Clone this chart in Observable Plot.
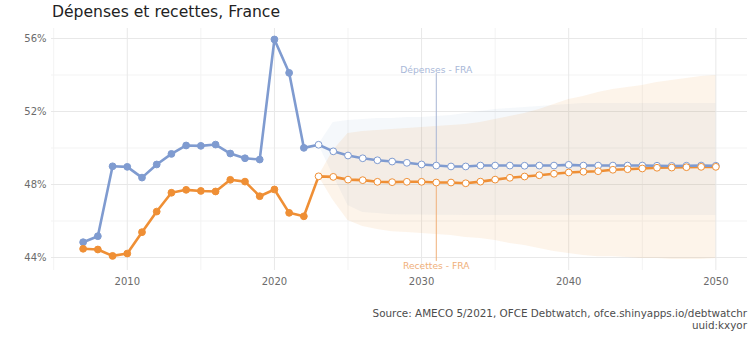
<!DOCTYPE html>
<html>
<head>
<meta charset="utf-8">
<script src="https://cdn.jsdelivr.net/npm/d3@7"></script>
<script src="https://cdn.jsdelivr.net/npm/@observablehq/plot@0.6"></script>
<style>
  html, body { margin: 0; padding: 0; background: #fff; }
  #wrap { position: relative; width: 754px; height: 337px; overflow: hidden; font-family: "DejaVu Sans", sans-serif; }
  #title { position: absolute; left: 52px; top: 3px; font-size: 15.6px; color: #222; white-space: nowrap; }
  #caption { position: absolute; right: 7px; top: 307px; font-size: 10.4px; line-height: 12px; color: #4d4d4d; text-align: right; white-space: nowrap; }
  #chart { position: absolute; left: 0; top: 0; }
</style>
</head>
<body>
<div id="wrap">
  <div id="chart"></div>
  <div id="title">Dépenses et recettes, France</div>
  <div id="caption">Source: AMECO 5/2021, OFCE Debtwatch, ofce.shinyapps.io/debtwatchr<br>uuid:kxyor</div>
</div>
<script>
// ---- data ----
const years = [2007, 2008, 2009, 2010, 2011, 2012, 2013, 2014, 2015, 2016, 2017, 2018, 2019, 2020, 2021, 2022,
  2023, 2024, 2025, 2026, 2027, 2028, 2029, 2030, 2031, 2032, 2033, 2034, 2035, 2036, 2037, 2038, 2039, 2040,
  2041, 2042, 2043, 2044, 2045, 2046, 2047, 2048, 2049, 2050];
const depenses = [44.84, 45.17, 49.00, 48.97, 48.38, 49.10, 49.68, 50.14, 50.12, 50.19, 49.70, 49.44, 49.37, 55.95, 54.12, 50.01,
  50.18, 49.82, 49.59, 49.44, 49.33, 49.26, 49.19, 49.10, 49.04, 48.99, 48.99, 49.04, 49.04,
  49.04, 49.03, 49.04, 49.04, 49.08, 49.04, 49.04, 49.04, 49.04, 49.04, 49.03, 49.02, 49.03, 49.04, 49.03];
const recettes = [44.48, 44.44, 44.09, 44.22, 45.39, 46.52, 47.55, 47.71, 47.65, 47.62, 48.26, 48.16, 47.36, 47.73, 46.45, 46.26,
  48.45, 48.42, 48.27, 48.24, 48.15, 48.13, 48.15, 48.15, 48.11, 48.11, 48.07, 48.16, 48.27, 48.37,
  48.44, 48.51, 48.59, 48.66, 48.70, 48.73, 48.81, 48.84, 48.88, 48.92, 48.93, 48.95, 48.97, 48.97];
const firstProjectionYear = 2023;
const bandYears = [2023, 2024, 2025, 2026, 2027, 2028, 2029, 2030, 2031, 2032, 2033, 2034, 2035, 2036, 2037, 2038, 2039, 2040,
  2041, 2042, 2043, 2044, 2045, 2046, 2047, 2048, 2049, 2050];
const depHigh = [50.18, 51.40, 51.51, 51.56, 51.62, 51.62, 51.67, 51.67, 51.73, 51.78, 51.89, 52.00, 52.11, 52.16, 52.22, 52.27, 52.33, 52.38,
  52.44, 52.44, 52.44, 52.44, 52.44, 52.44, 52.44, 52.44, 52.44, 52.44];
const depLow = [50.18, 48.49, 46.85, 46.47, 46.41, 46.35, 46.33, 46.33, 46.32, 46.32, 46.30, 46.30, 46.30, 46.30, 46.30, 46.30, 46.30, 46.30,
  46.30, 46.30, 46.30, 46.30, 46.30, 46.30, 46.30, 46.30, 46.30, 46.30];
const recHigh = [48.45, 49.86, 50.79, 50.90, 50.96, 51.01, 51.07, 51.12, 51.18, 51.23, 51.29, 51.40, 51.56, 51.73, 51.89, 52.11, 52.38, 52.66,
  52.82, 53.04, 53.21, 53.32, 53.42, 53.59, 53.70, 53.81, 53.92, 53.97];
const recLow = [48.45, 47.12, 46.03, 45.70, 45.53, 45.42, 45.37, 45.32, 45.26, 45.21, 45.10, 45.04, 44.93, 44.77, 44.66, 44.49, 44.33, 44.22,
  44.11, 44.05, 44.05, 44.00, 43.95, 43.95, 43.89, 43.89, 43.89, 43.95];
const yTicks = [44, 48, 52, 56];
const yMinor = [46, 50, 54];
const xTicks = [2010, 2020, 2030, 2040, 2050];
const xMinor = [2005, 2015, 2025, 2035, 2045];
const labelDep = {text: "Dépenses - FRA", year: 2031, textY: 54.30, ruleEnd: 54.08};
const labelRec = {text: "Recettes - FRA", year: 2031, textY: 43.51, ruleEnd: 43.78};

// ---- styles ----
const BLUE = "#7f9bd0";
const ORANGE = "#ef8f35";

const rows = years.map((y, i) => ({year: y, dep: depenses[i], rec: recettes[i], proj: y >= firstProjectionYear}));
const bands = bandYears.map((y, i) => ({year: y, dh: depHigh[i], dl: depLow[i], rh: recHigh[i], rl: recLow[i]}));
const depAt = rows.find(r => r.year === labelDep.year).dep;
const recAt = rows.find(r => r.year === labelRec.year).rec;

const chart = Plot.plot({
  width: 754,
  height: 337,
  marginLeft: 51,
  marginRight: 7,
  marginTop: 28,
  marginBottom: 67,
  style: {fontFamily: "DejaVu Sans, sans-serif", fontSize: "10px", color: "#6b6b6b", background: "transparent"},
  x: {domain: [2004.85, 2052.15], label: null},
  y: {domain: [43.29, 56.55], label: null},
  marks: [
    Plot.ruleY(yMinor, {stroke: "#f3f3f3", strokeWidth: 1}),
    Plot.ruleX(xMinor, {stroke: "#f3f3f3", strokeWidth: 1}),
    Plot.ruleY(yTicks, {stroke: "#e8e8e8", strokeWidth: 1}),
    Plot.ruleX(xTicks, {stroke: "#e8e8e8", strokeWidth: 1}),
    Plot.areaY(bands, {x: "year", y1: "dl", y2: "dh", fill: BLUE, fillOpacity: 0.075}),
    Plot.areaY(bands, {x: "year", y1: "rl", y2: "rh", fill: ORANGE, fillOpacity: 0.1}),
    Plot.ruleX([labelDep], {x: "year", y1: "ruleEnd", y2: () => depAt, stroke: "#a7b5d4", strokeWidth: 1}),
    Plot.ruleX([labelRec], {x: "year", y1: "ruleEnd", y2: () => recAt, stroke: "#f0b07a", strokeWidth: 1}),
    Plot.text([labelDep], {x: "year", y: "textY", text: "text", fill: "#a9b8d8", fontSize: 9.2}),
    Plot.text([labelRec], {x: "year", y: "textY", text: "text", fill: "#f0b07a", fontSize: 9.2}),
    Plot.line(rows, {x: "year", y: "rec", stroke: ORANGE, strokeWidth: 2.6}),
    Plot.line(rows, {x: "year", y: "dep", stroke: BLUE, strokeWidth: 2.6}),
    Plot.dot(rows, {x: "year", y: "dep", r: 3.4, fill: d => d.proj ? "white" : BLUE, stroke: BLUE, strokeWidth: 1}),
    Plot.dot(rows, {x: "year", y: "rec", r: 3.4, fill: d => d.proj ? "white" : ORANGE, stroke: ORANGE, strokeWidth: 1}),
    Plot.axisY({ticks: yTicks, tickSize: 0, tickPadding: 5, tickFormat: d => d + "%", label: null}),
    Plot.axisX({ticks: xTicks, tickSize: 0, tickPadding: 7, tickFormat: d => String(d), label: null})
  ]
});
document.getElementById("chart").appendChild(chart);
</script>
</body>
</html>
